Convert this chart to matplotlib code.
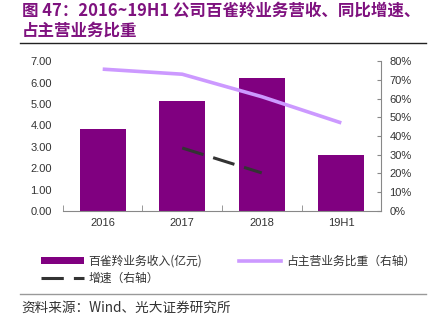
import matplotlib
matplotlib.use("Agg")
import matplotlib.pyplot as plt
from matplotlib.lines import Line2D
from matplotlib.patches import Patch
from matplotlib.ticker import PercentFormatter

plt.rcParams["font.family"] = ["Liberation Sans", "Noto Sans CJK SC", "DejaVu Sans"]

categories = ["2016", "2017", "2018", "19H1"]
revenue = [3.83, 5.14, 6.21, 2.62]          # 亿元
share = [0.757, 0.73, 0.61, 0.47]            # 占主营业务比重
growth_x = [1, 2]
growth = [0.336, 0.203]                      # 同比增速

PURPLE = "#800080"
LILAC = "#CC99FF"
TITLE_C = "#7F127F"
TXT = "#333333"
CJK = ["Noto Sans CJK SC", "DejaVu Sans"]

fig = plt.figure(figsize=(4.34, 3.25), dpi=100)
ax = fig.add_axes([0.145, 0.351, 0.733, 0.461])
ax2 = ax.twinx()

x = range(len(categories))
ax.bar(x, revenue, width=0.58, color=PURPLE, zorder=2)
ax.set_xlim(-0.5, 3.5)
ax.set_ylim(0, 7)
ax.set_yticks([i for i in range(8)])
ax.set_yticklabels([f"{i:.2f}" for i in range(8)])
ax.set_xticks(list(x))
ax.set_xticklabels(categories)
ax.set_xticks([-0.5, 0.5, 1.5, 2.5], minor=True)
ax.tick_params(axis="x", which="major", length=0, labelsize=8, colors=TXT, pad=5)
ax.tick_params(axis="x", which="minor", length=4, direction="in", color="#888888")
ax.tick_params(axis="y", length=0, labelsize=8, colors=TXT, pad=8)
for s in ["top", "left", "right"]:
    ax.spines[s].set_visible(False)
ax.spines["bottom"].set_color("#888888")

ax2.plot(x, share, color=LILAC, lw=2.6, solid_capstyle="butt", zorder=3)
ax2.plot(growth_x, growth, color=TXT, lw=2.2, dashes=(7.3, 3.3), zorder=3)
ax2.set_ylim(0, 0.8)
ax2.set_yticks([i / 10 for i in range(9)])
ax2.yaxis.set_major_formatter(PercentFormatter(1.0, decimals=0))
ax2.tick_params(axis="y", length=3, direction="in", color="#888888",
                labelsize=8, labelcolor=TXT, pad=6)
for s in ["top", "left", "bottom"]:
    ax2.spines[s].set_visible(False)
ax2.spines["right"].set_color("#888888")

fig.text(0.05, 0.994, "图 47：2016~19H1 公司百雀羚业务营收、同比增速、",
         fontsize=11.9, fontweight="bold", color=TITLE_C, va="top", family=CJK)
fig.text(0.05, 0.905, "占主营业务比重", fontsize=11.9, fontweight="bold",
         color=TITLE_C, va="center", family=CJK)
fig.add_artist(Line2D([0.046, 0.982], [0.868, 0.868], color="#222222", lw=1.0))

handles = [
    Patch(facecolor=PURPLE, edgecolor="none"),
    Line2D([], [], color=TXT, lw=2.2, dashes=(7.3, 3.3)),
    Line2D([], [], color=LILAC, lw=2.6),
]
labels = ["百雀羚业务收入(亿元)", "增速（右轴）", "占主营业务比重（右轴）"]
fig.legend(handles, labels, ncol=2, loc="upper left", bbox_to_anchor=(0.07, 0.248),
           frameon=False, handlelength=3.6, handleheight=0.5,
           columnspacing=3.1, handletextpad=0.4, labelspacing=0.35,
           prop={"family": CJK, "size": 8.5}, labelcolor=TXT)

fig.add_artist(Line2D([0.046, 0.982], [0.094, 0.094], color="#999999", lw=1.0))
fig.text(0.05, 0.052, "资料来源：Wind、光大证券研究所", fontsize=9.8, color=TXT,
         va="center", family=CJK)

fig.savefig("out.png", dpi=100)
